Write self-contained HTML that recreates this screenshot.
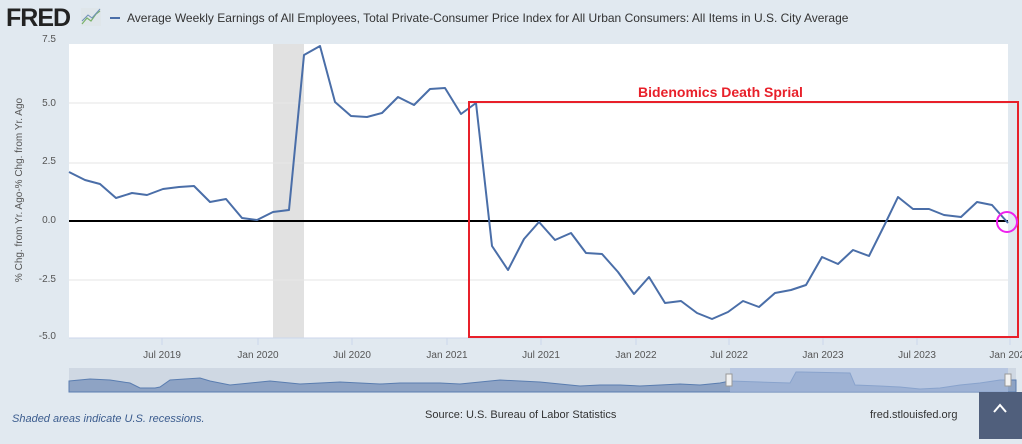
<!DOCTYPE html>
<html><head><meta charset="utf-8"><style>
body{margin:0;width:1022px;height:439px;background:#e1e9f0;font-family:"Liberation Sans",sans-serif;overflow:hidden}
</style></head><body>
<svg width="1022" height="439" xmlns="http://www.w3.org/2000/svg" font-family="Liberation Sans, sans-serif">
<rect width="1022" height="439" fill="#e1e9f0"/>
<text x="6" y="26" font-size="25" font-weight="bold" fill="#222" letter-spacing="-1">FRED</text>
<rect x="81" y="8" width="20" height="18" fill="#dfe6ea"/>
<polyline points="82,24 87,18 91,21 96,14 100,11" fill="none" stroke="#7bb36a" stroke-width="1.2"/>
<polyline points="82,21 88,15 92,18 100,9" fill="none" stroke="#6f8fb8" stroke-width="1"/>
<line x1="110" y1="18" x2="120" y2="18" stroke="#4a6ea8" stroke-width="2"/>
<text x="127" y="22" font-size="12" fill="#333">Average Weekly Earnings of All Employees, Total Private-Consumer Price Index for All Urban Consumers: All Items in U.S. City Average</text>
<rect x="69" y="44" width="939" height="294" fill="#fff"/>
<rect x="273" y="44" width="31" height="294" fill="#e1e1e1"/>
<g stroke="#e6e6e6" stroke-width="1">
<line x1="69" y1="103" x2="1008" y2="103"/><line x1="69" y1="163" x2="1008" y2="163"/><line x1="69" y1="280" x2="1008" y2="280"/>
</g>
<line x1="69" y1="338" x2="1008" y2="338" stroke="#ccd6eb"/>
<g stroke="#ccd6eb"><line x1="162" y1="338" x2="162" y2="345"/><line x1="258" y1="338" x2="258" y2="345"/><line x1="352" y1="338" x2="352" y2="345"/><line x1="447" y1="338" x2="447" y2="345"/><line x1="541" y1="338" x2="541" y2="345"/><line x1="636" y1="338" x2="636" y2="345"/><line x1="729" y1="338" x2="729" y2="345"/><line x1="823" y1="338" x2="823" y2="345"/><line x1="917" y1="338" x2="917" y2="345"/><line x1="1010" y1="338" x2="1010" y2="345"/></g>
<line x1="69" y1="221" x2="1008" y2="221" stroke="#000" stroke-width="2"/>
<g font-size="10" fill="#555" text-anchor="end">
<text x="56" y="42">7.5</text><text x="56" y="106">5.0</text><text x="56" y="164">2.5</text><text x="56" y="223">0.0</text><text x="56" y="282">-2.5</text><text x="56" y="339">-5.0</text>
</g>
<text transform="translate(22,190) rotate(-90)" font-size="10" fill="#555" text-anchor="middle">% Chg. from Yr. Ago-% Chg. from Yr. Ago</text>
<g font-size="10" fill="#555" text-anchor="middle">
<text x="162" y="358">Jul 2019</text><text x="258" y="358">Jan 2020</text><text x="352" y="358">Jul 2020</text><text x="447" y="358">Jan 2021</text><text x="541" y="358">Jul 2021</text><text x="636" y="358">Jan 2022</text><text x="729" y="358">Jul 2022</text><text x="823" y="358">Jan 2023</text><text x="917" y="358">Jul 2023</text><text x="1010" y="358">Jan 2024</text>
</g>
<polyline fill="none" stroke="#4a6ea8" stroke-width="2" stroke-linejoin="round" points="69,172 85,180 100,184 116,198 132,193 147,195 163,189 179,187 194,186 210,202 226,199 242,218 257,220 273,212 289,210 304,55 320,46 335,102 351,116 367,117 382,113 398,97 414,105 430,89 445,88 461,114 476,103 492,246 508,270 524,239 539,222 555,240 571,233 586,253 602,254 618,272 634,294 649,277 665,303 681,301 697,313 712,319 728,312 743,301 759,307 775,293 791,290 806,285 822,257 838,264 853,250 869,256 885,224 898,197 913,209 929,209 944,215 961,217 977,202 992,205 1008,223"/>
<rect x="469" y="102" width="549" height="235" fill="none" stroke="#e8202a" stroke-width="2"/>
<text x="638" y="97" font-size="14" font-weight="bold" fill="#e8202a">Bidenomics Death Sprial</text>
<circle cx="1007" cy="222" r="10" fill="none" stroke="#ee22ee" stroke-width="2"/>
<rect x="69" y="368" width="947" height="24" fill="#cfd8e3"/>
<path d="M69,381 L90,379 110,380 130,383 140,388 155,388 160,387 170,380 185,379 200,378 210,381 230,385 250,383 270,381 300,384 320,383 340,382 360,383 380,384 400,383 420,383 440,383 460,384 480,382 500,380 520,381 540,382 560,384 580,386 600,385 620,385 640,386 660,385 680,384 700,385 720,383 730,381 760,382 790,383 796,372 802,372 850,373 855,385 880,386 900,387 920,389 940,388 960,385 980,383 1000,380 1016,380 L1016,392 69,392Z" fill="#8ea3c4" stroke="#5a7db0"/>
<rect x="730" y="368" width="278" height="24" fill="#a9bde0" opacity="0.6"/>
<rect x="726" y="374" width="6" height="12" fill="#f2f2f2" stroke="#999"/>
<rect x="1005" y="374" width="6" height="12" fill="#f2f2f2" stroke="#999"/>
<text x="12" y="422" font-size="11" font-style="italic" fill="#3b5c8e">Shaded areas indicate U.S. recessions.</text>
<text x="425" y="418" font-size="11" fill="#333">Source: U.S. Bureau of Labor Statistics</text>
<text x="870" y="418" font-size="11" fill="#333">fred.stlouisfed.org</text>
<rect x="979" y="392" width="43" height="47" fill="#505f7c"/>
<path d="M994,412 L1000,405 1006,412" fill="none" stroke="#fff" stroke-width="2"/>
</svg>
</body></html>
